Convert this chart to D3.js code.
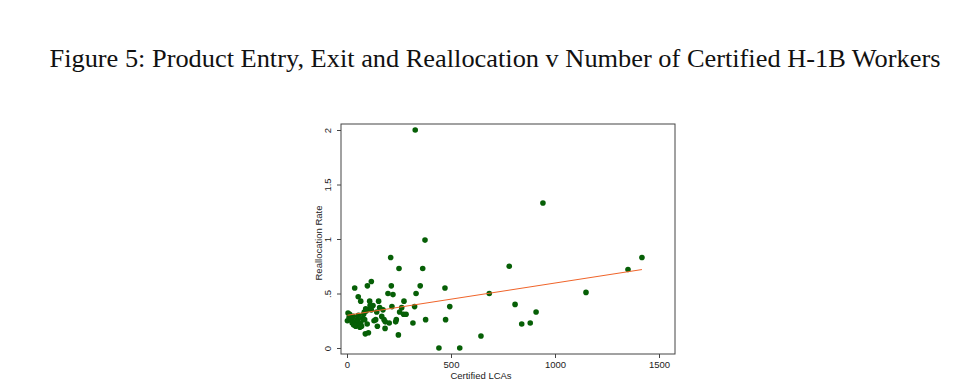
<!DOCTYPE html>
<meta charset="utf-8">
<style>
  body { margin: 0; background: #fff; }
  .tick text { font-family: "Liberation Sans", Arial, sans-serif; font-size: 9.5px; fill: #222; }
</style>
<body>
<div id="chart"></div>
<script src="https://cdn.jsdelivr.net/npm/d3@7"></script>
<script>

// certified LCAs (x) and reallocation rate (y)
var lcas = [2, 5, 10, 13, 18, 21, 25, 30, 32, 38, 42, 45, 50, 55, 58, 62, 66, 70, 75, 80,
  85, 88, 92, 97, 103, 110, 117, 125, 130, 138, 143, 146, 152, 157, 167, 173, 178, 183, 184, 197,
  203, 210, 213, 216, 221, 234, 237, 247, 250, 253, 263, 272, 274, 284, 317, 325, 328, 332, 352, 364,
  375, 378, 442, 471, 474, 494, 542, 644, 684, 780, 808, 840, 881, 909, 942, 1149, 1351, 1418,
  37, 54, 66, 98, 109, 117, 83, 90, 111];
var rates = [0.25, 0.32, 0.28, 0.31, 0.26, 0.26, 0.23, 0.29, 0.21, 0.24, 0.20, 0.21, 0.26, 0.30, 0.22, 0.19, 0.23, 0.20, 0.27, 0.31,
  0.26, 0.13, 0.34, 0.22, 0.14, 0.36, 0.35, 0.39, 0.25, 0.26, 0.33, 0.20, 0.43, 0.37, 0.29, 0.35, 0.26, 0.18, 0.24, 0.50,
  0.23, 0.83, 0.57, 0.38, 0.49, 0.24, 0.26, 0.12, 0.73, 0.33, 0.37, 0.31, 0.43, 0.31, 0.23, 0.38, 2.00, 0.50, 0.57, 0.73,
  0.99, 0.26, 0.00, 0.55, 0.26, 0.38, 0.00, 0.11, 0.50, 0.75, 0.40, 0.22, 0.23, 0.33, 1.33, 0.51, 0.72, 0.83,
  0.55, 0.47, 0.43, 0.57, 0.43, 0.61, 0.33, 0.36, 0.39];

// linear fit
var fitIntercept = 0.30;
var fitSlope = 0.000296;

var xTicks = [0, 500, 1000, 1500];
var yTicks = [0, 0.5, 1, 1.5, 2];
var yTickLabels = ["0", ".5", "1", "1.5", "2"];

var width = 966, height = 392;

var svg = d3.select("#chart").append("svg")
    .attr("width", width)
    .attr("height", height);

svg.append("text")
    .attr("x", 495)
    .attr("y", 67)
    .attr("text-anchor", "middle")
    .attr("textLength", 891)
    .attr("lengthAdjust", "spacingAndGlyphs")
    .style("font-family", "'Liberation Serif', 'DejaVu Serif', serif")
    .style("font-size", "25px")
    .style("fill", "#111")
    .text("Figure 5: Product Entry, Exit and Reallocation v Number of Certified H-1B Workers");

var x = d3.scaleLinear().domain([0, 1500]).range([347, 659]);
var y = d3.scaleLinear().domain([0, 2]).range([348, 130]);

// plot region frame
var box = { left: 341, right: 675, top: 124, bottom: 354 };
svg.append("rect")
    .attr("x", box.left)
    .attr("y", box.top)
    .attr("width", box.right - box.left)
    .attr("height", box.bottom - box.top)
    .attr("fill", "none")
    .attr("stroke", "#444")
    .attr("stroke-width", 1);

var xAxis = svg.append("g")
    .attr("transform", "translate(0," + box.bottom + ")")
    .call(d3.axisBottom(x).tickValues(xTicks).tickSize(4).tickPadding(3).tickFormat(d3.format("d")));
xAxis.select(".domain").remove();
xAxis.selectAll("line").attr("stroke", "#444");

var yAxis = svg.append("g")
    .attr("transform", "translate(" + box.left + ",0)")
    .call(d3.axisLeft(y).tickValues(yTicks).tickSize(4).tickFormat(function(d, i) { return yTickLabels[i]; }));
yAxis.select(".domain").remove();
yAxis.selectAll("line").attr("stroke", "#444");
yAxis.selectAll("text")
    .attr("x", null).attr("dy", null)
    .attr("text-anchor", "middle")
    .attr("transform", "translate(-10,0) rotate(-90)");

svg.append("text")
    .attr("x", 481)
    .attr("y", 379)
    .attr("text-anchor", "middle")
    .style("font-family", "'Liberation Sans', Arial, sans-serif")
    .style("font-size", "9.5px")
    .style("fill", "#222")
    .text("Certified LCAs");

svg.append("text")
    .attr("transform", "translate(322," + ((box.top + box.bottom) / 2 + 4) + ") rotate(-90)")
    .attr("text-anchor", "middle")
    .style("font-family", "'Liberation Sans', Arial, sans-serif")
    .style("font-size", "9.5px")
    .style("fill", "#222")
    .text("Reallocation Rate");

var points = lcas.map(function(d, i) { return [d, rates[i]]; });

svg.append("g").selectAll("circle")
    .data(points)
  .enter().append("circle")
    .attr("cx", function(d) { return x(d[0]); })
    .attr("cy", function(d) { return y(d[1]); })
    .attr("r", 2.8)
    .attr("fill", "#065f06");

var xmin = d3.min(lcas), xmax = d3.max(lcas);
svg.append("line")
    .attr("x1", x(xmin))
    .attr("y1", y(fitIntercept + fitSlope * xmin))
    .attr("x2", x(xmax))
    .attr("y2", y(fitIntercept + fitSlope * xmax))
    .attr("stroke", "#f0642a")
    .attr("stroke-width", 1);

</script>
</body>
